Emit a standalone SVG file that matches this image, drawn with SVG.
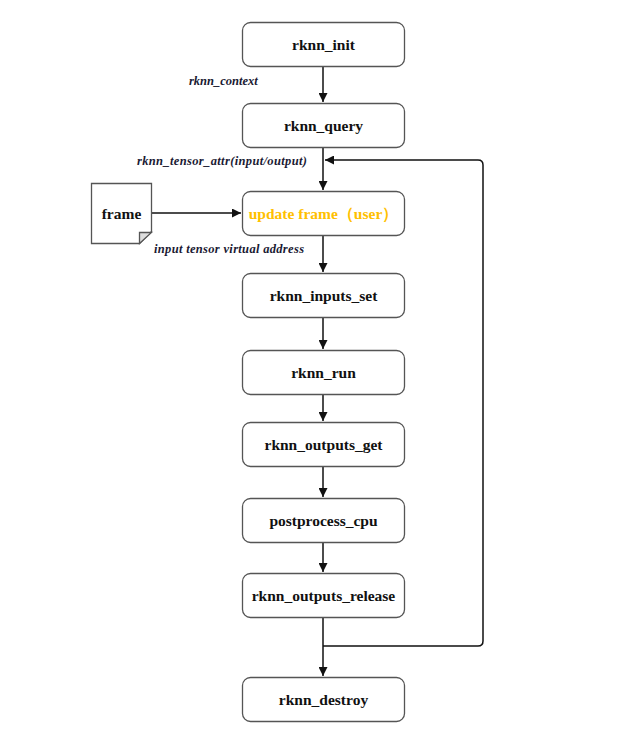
<svg xmlns="http://www.w3.org/2000/svg" width="621" height="729" viewBox="0 0 621 729">
<style>
.box{fill:#fff;stroke:#555;stroke-width:1.3}
.t{font-family:"Liberation Serif",serif;font-weight:bold;font-size:15.5px;fill:#111;text-anchor:middle}
.lbl{font-family:"Liberation Serif",serif;font-weight:bold;font-style:italic;font-size:12.5px;fill:#1a1a33}
.ln{fill:none;stroke:#111;stroke-width:1.5}
</style>
<defs>
<marker id="ah" viewBox="0 0 10 10" refX="10" refY="5" markerWidth="9" markerHeight="9" markerUnits="userSpaceOnUse" orient="auto">
<path d="M0,0 L10,5 L0,10 Z" fill="#111"/>
</marker>
</defs>
<rect width="621" height="729" fill="#fff"/>
<g id="connectors">
<line class="ln" x1="323" y1="67" x2="323" y2="102" marker-end="url(#ah)"/>
<line class="ln" x1="323" y1="148" x2="323" y2="190" marker-end="url(#ah)"/>
<line class="ln" x1="152" y1="213" x2="241" y2="213" marker-end="url(#ah)"/>
<line class="ln" x1="323" y1="236" x2="323" y2="272" marker-end="url(#ah)"/>
<line class="ln" x1="323" y1="318" x2="323" y2="349" marker-end="url(#ah)"/>
<line class="ln" x1="323" y1="394" x2="323" y2="421" marker-end="url(#ah)"/>
<line class="ln" x1="323" y1="466" x2="323" y2="497" marker-end="url(#ah)"/>
<line class="ln" x1="323" y1="542" x2="323" y2="572" marker-end="url(#ah)"/>
<line class="ln" x1="323" y1="618" x2="323" y2="676" marker-end="url(#ah)"/>
<path class="ln" d="M323,646 H478 Q483,646 483,641 V165 Q483,160 478,160 H325" marker-end="url(#ah)"/>
</g>
<g id="labels">
<text class="lbl" x="189" y="85">rknn_context</text>
<text class="lbl" x="137" y="165" textLength="170">rknn_tensor_attr(input/output)</text>
<text class="lbl" x="154" y="253" textLength="150">input tensor virtual address</text>
</g>
<g id="n_init"><rect class="box" x="242.5" y="22.5" width="162" height="44" rx="8"/><text class="t" x="323.5" y="50">rknn_init</text></g>
<g id="n_query"><rect class="box" x="242.5" y="103.5" width="162" height="44" rx="8"/><text class="t" x="323.5" y="131">rknn_query</text></g>
<g id="n_frame_doc">
<path d="M91.5,183.5 H151.5 V231.5 L139.5,243.5 H91.5 Z" fill="#fff" stroke="#555" stroke-width="1.3"/>
<path d="M139.5,243.5 V232.5 H151.5 Z" fill="#ddd" stroke="#555" stroke-width="1.3"/>
<text class="t" x="121.5" y="219">frame</text>
</g>
<g id="n_update"><rect class="box" x="242.5" y="191.5" width="162" height="44" rx="8"/><text class="t" x="323.5" y="219" fill="#FFC000" style="fill:#FFC000">update frame（user）</text></g>
<g id="n_inputs_set"><rect class="box" x="242.5" y="273.5" width="162" height="44" rx="8"/><text class="t" x="323.5" y="301">rknn_inputs_set</text></g>
<g id="n_run"><rect class="box" x="242.5" y="350.5" width="162" height="44" rx="8"/><text class="t" x="323.5" y="378">rknn_run</text></g>
<g id="n_outputs_get"><rect class="box" x="242.5" y="422.5" width="162" height="44" rx="8"/><text class="t" x="323.5" y="450">rknn_outputs_get</text></g>
<g id="n_postprocess"><rect class="box" x="242.5" y="498.5" width="162" height="44" rx="8"/><text class="t" x="323.5" y="526">postprocess_cpu</text></g>
<g id="n_outputs_release"><rect class="box" x="242.5" y="573.5" width="162" height="44" rx="8"/><text class="t" x="323.5" y="601">rknn_outputs_release</text></g>
<g id="n_destroy"><rect class="box" x="242.5" y="677.5" width="162" height="44" rx="8"/><text class="t" x="323.5" y="705">rknn_destroy</text></g>
</svg>
